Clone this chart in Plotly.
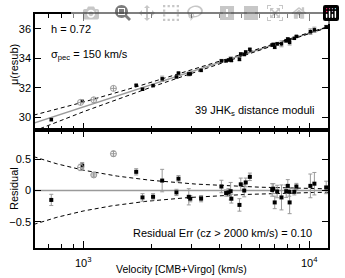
import numpy as np
import plotly.graph_objects as go
from plotly.subplots import make_subplots

# ---- data ----
h = 0.72
sigma_pec = 150.0
velocity = [718, 984, 1706, 1819, 2026, 2223, 2571, 2625, 2916, 2960, 3306,
            4066, 4266, 4370, 4467, 4500, 4887, 4953, 5130, 5210, 5433,
            6823, 6900, 7000, 7177, 7500, 7870, 8000, 8116, 8150, 8550, 8730,
            10070, 10490, 11830]
residual = [-0.15, 0.40, 0.30, -0.11, -0.10, 0.16, -0.03, 0.19, -0.10, -0.13, -0.13,
            0.065, -0.04, -0.03, -0.01, -0.13, -0.23, 0.10, 0.0, 0.13, 0.22,
            0.01, 0.03, -0.19, -0.015, -0.11, -0.01, 0.075, -0.02, -0.19, -0.02, 0.065,
            0.075, 0.11, 0.05]
res_err = [0.09, 0.05, 0.05, 0.06, 0.05, 0.18, 0.05, 0.05, 0.13, 0.05, 0.05,
           0.10, 0.05, 0.06, 0.14, 0.07, 0.10, 0.10, 0.10, 0.07, 0.06,
           0.10, 0.08, 0.10, 0.10, 0.20, 0.10, 0.10, 0.07, 0.18, 0.05, 0.05,
           0.19, 0.18, 0.10]
open_velocity = [967, 1107, 1353]
open_residual = [0.37, 0.25, 0.59]
open_err = [0.05, 0.03, 0.04]

x_ticks = [1000, 10000]
x_ticktext = ["10<sup>3</sup>", "10<sup>4</sup>"]
x_minor = [700, 800, 900, 2000, 3000, 4000, 5000, 6000, 7000, 8000, 9000]
y1_ticks = [30, 32, 34, 36]
y2_ticks = [-0.5, 0, 0.5]
y2_ticktext = ["\u22120.5", "0", "0.5"]

# ---- model curves ----
H0 = 100 * h
def hubble_mu(v):
    v = np.asarray(v, dtype=float)
    return 5 * np.log10(v / H0) + 25

vgrid = np.logspace(np.log10(600), np.log10(12500), 200)
env = 5 / np.log(10) * sigma_pec / vgrid
mu_line = hubble_mu(vgrid)
mu_pts = hubble_mu(velocity) + np.array(residual)
mu_open = hubble_mu(open_velocity) + np.array(open_residual)

fig = make_subplots(rows=2, cols=1, shared_xaxes=True, vertical_spacing=0,
                    row_heights=[116, 118])

gray = "#9a9a9a"
# top panel
fig.add_trace(go.Scatter(x=vgrid, y=mu_line, mode="lines",
                         line=dict(color=gray, width=1.6)), 1, 1)
for s in (1, -1):
    fig.add_trace(go.Scatter(x=vgrid, y=mu_line + s * env, mode="lines",
                             line=dict(color="black", width=1, dash="4px,3px")), 1, 1)
fig.add_trace(go.Scatter(x=velocity, y=mu_pts, mode="markers",
                         error_y=dict(type="data", array=res_err, color=gray,
                                      thickness=1, width=2),
                         marker=dict(symbol="square", color="black", size=3.5)), 1, 1)
fig.add_trace(go.Scatter(x=open_velocity, y=mu_open, mode="markers",
                         marker=dict(symbol="circle-cross-open", color=gray, size=6,
                                     line=dict(width=1))), 1, 1)

# bottom panel
fig.add_trace(go.Scatter(x=[vgrid[0], vgrid[-1]], y=[0, 0], mode="lines",
                         line=dict(color=gray, width=1.6)), 2, 1)
for s in (1, -1):
    fig.add_trace(go.Scatter(x=vgrid, y=s * env, mode="lines",
                             line=dict(color="black", width=1, dash="4px,3px")), 2, 1)
fig.add_trace(go.Scatter(x=velocity, y=residual, mode="markers",
                         error_y=dict(type="data", array=res_err, color=gray,
                                      thickness=1, width=2),
                         marker=dict(symbol="square", color="black", size=4)), 2, 1)
fig.add_trace(go.Scatter(x=open_velocity, y=open_residual, mode="markers",
                         error_y=dict(type="data", array=open_err, color=gray,
                                      thickness=1, width=2),
                         marker=dict(symbol="circle-cross-open", color=gray, size=6,
                                     line=dict(width=1))), 2, 1)

font = dict(family="Liberation Sans, Arial, sans-serif", size=11, color="black")
xrange = [2.784, 4.081]
common_x = dict(type="log", range=xrange, showline=True, linecolor="black", linewidth=1.5,
                mirror="allticks", ticks="inside", ticklen=7, tickwidth=1, tickcolor="black",
                tickvals=x_ticks, showticklabels=False, showgrid=False, zeroline=False,
                automargin=False,
                minor=dict(tickvals=x_minor, ticks="inside", ticklen=4, tickcolor="black",
                           showgrid=False))
fig.update_xaxes(**common_x)
common_y = dict(showline=True, linecolor="black", linewidth=1.5, mirror="allticks",
                ticks="inside", ticklen=6, tickcolor="black", showgrid=False,
                zeroline=False, tickfont=font, automargin=False)
fig.update_yaxes(**common_y)
fig.update_yaxes(range=[29.14, 37.0], tickvals=y1_ticks, row=1, col=1)
fig.update_yaxes(range=[-0.92, 0.97], tickvals=y2_ticks, ticktext=y2_ticktext, row=2, col=1)

# x tick labels placed at the tick values on the log axis
for tv, tt in zip(x_ticks, x_ticktext):
    fig.add_annotation(xref="x2", yref="paper", x=np.log10(tv), y=0, yshift=-5,
                       xanchor="center", yanchor="top", showarrow=False,
                       font=font, text=tt)

# axis titles
fig.add_annotation(xref="paper", yref="paper", x=0.5, y=0, yshift=-13,
                   xanchor="center", yanchor="top", showarrow=False,
                   font=dict(family=font["family"], size=10.5, color="black"),
                   text="Velocity [CMB+Virgo] (km/s)")
fig.add_annotation(xref="paper", yref="paper", x=0, xshift=-21, y=0.782,
                   xanchor="center", yanchor="middle", textangle=-90, showarrow=False,
                   font=font, text="\u03bc(resub)")
fig.add_annotation(xref="paper", yref="paper", x=0, xshift=-21, y=0.252,
                   xanchor="center", yanchor="middle", textangle=-90, showarrow=False,
                   font=font, text="Residual")

anns = [
    dict(x=0.048, y=0.938, text="h = 0.72"),
    dict(x=0.048, y=0.825, text="\u03c3<sub>pec</sub> = 150 km/s"),
]
for a in anns:
    fig.add_annotation(xref="paper", yref="paper", xanchor="left", yanchor="middle",
                       showarrow=False, font=font, **a)
fig.add_annotation(xref="paper", yref="paper", x=0.959, y=0.585, xanchor="right",
                   yanchor="middle", showarrow=False, font=font,
                   text="39 JHK<sub>s</sub> distance moduli")
fig.add_annotation(xref="paper", yref="paper", x=0.953, y=0.063, xanchor="right",
                   yanchor="middle", showarrow=False, font=font,
                   text="Residual Err (cz > 2000 km/s) = 0.10")

fig.update_layout(width=345, height=278, margin=dict(l=35, r=17, t=14, b=30),
                  showlegend=False, plot_bgcolor="white", paper_bgcolor="white",
                  font=font)
# remove the browser's default 8px page margin so the figure sits at (0,0)
fig.write_html("out.html",
               post_script="document.body.style.margin='0';document.body.style.overflow='hidden';")
